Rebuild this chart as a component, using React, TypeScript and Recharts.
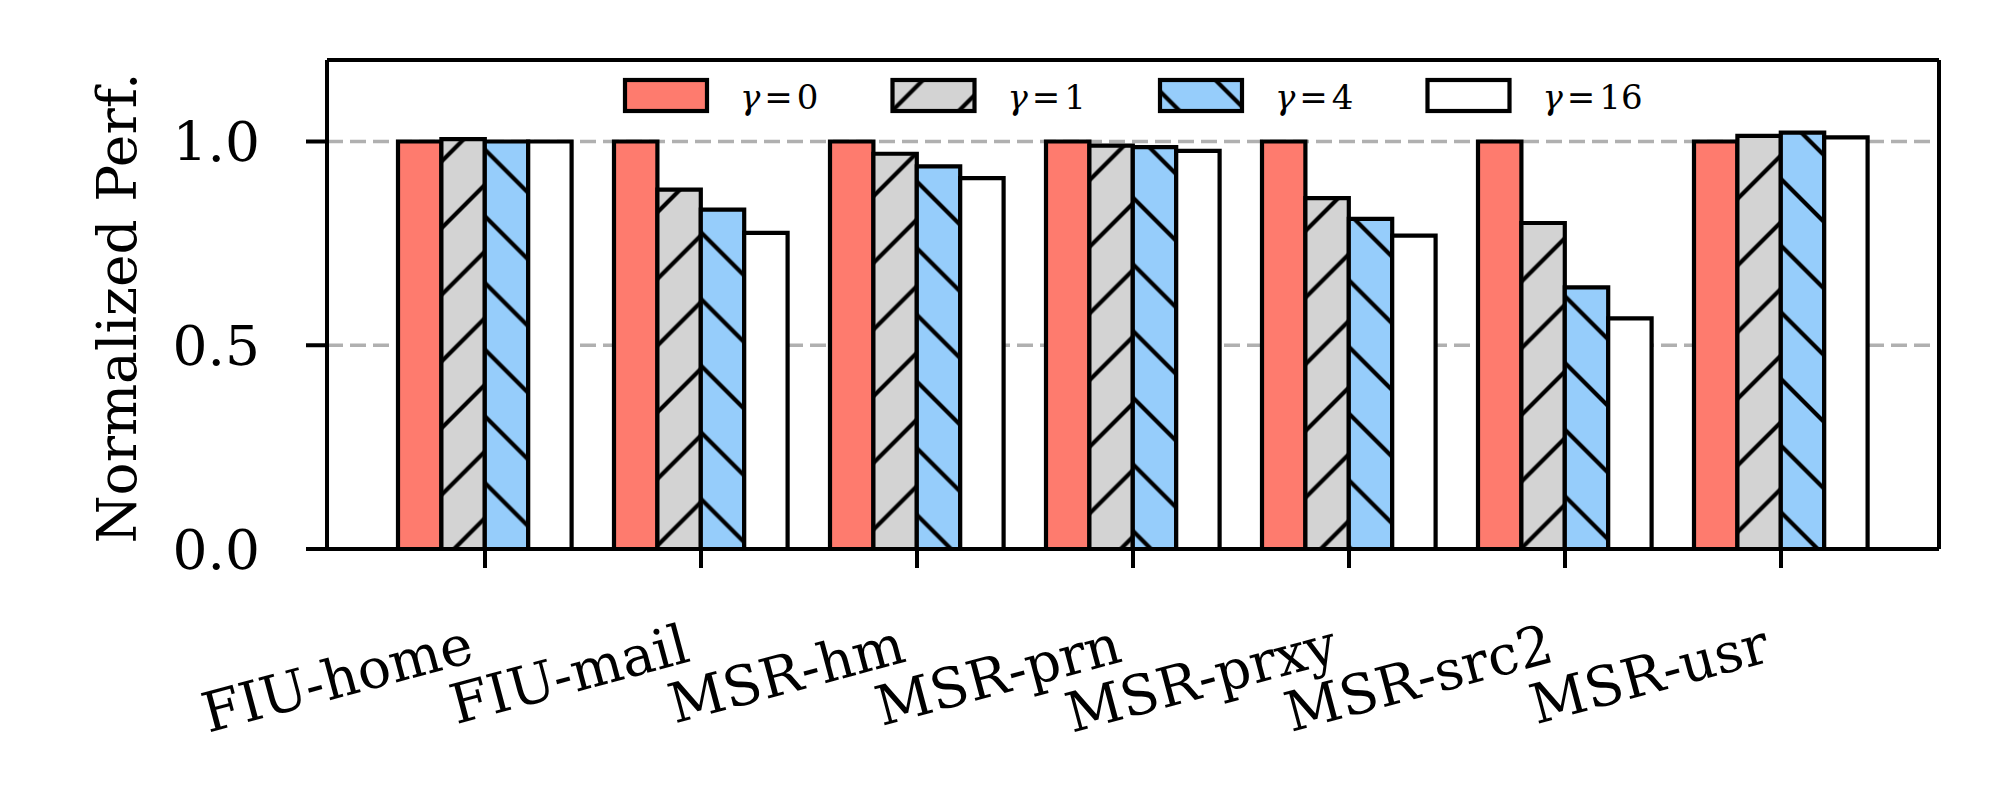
import { BarChart, Bar, XAxis, YAxis, CartesianGrid, Legend } from "recharts";

const categories = ["FIU-home", "FIU-mail", "MSR-hm", "MSR-prn", "MSR-prxy", "MSR-src2", "MSR-usr"];
const gamma0 = [1.0, 1.0, 1.0, 1.0, 1.0, 1.0, 1.0];
const gamma1 = [1.006, 0.882, 0.97, 0.99, 0.861, 0.8, 1.014];
const gamma4 = [1.0, 0.833, 0.939, 0.986, 0.81, 0.642, 1.022];
const gamma16 = [1.0, 0.776, 0.91, 0.977, 0.769, 0.566, 1.01];
const gammaLabels = ["0", "1", "4", "16"];
const yTicks = [0, 0.5, 1.0];

const data = categories.map((name, i) => ({
  name,
  g0: gamma0[i],
  g1: gamma1[i],
  g4: gamma4[i],
  g16: gamma16[i],
}));

const FONT = "DejaVu Serif";
const HATCH = 66.67;
const AXIS = { stroke: "#000", strokeWidth: 4 };

const series = [
  { key: "g0", fill: "#fe7b6e" },
  { key: "g1", fill: "url(#hatch-fwd)" },
  { key: "g4", fill: "url(#hatch-back)" },
  { key: "g16", fill: "#ffffff" },
];

// "/" lines: x + y = c + k*HATCH
function fwdPath(c: number) {
  let d = "";
  for (let k = -1; k <= 2; k++) {
    const s = c + k * HATCH;
    d += `M${-10},${s + 10} L${s + 10},${-10} `;
  }
  return d;
}

// "\" lines: x - y = c + k*HATCH
function backPath(c: number) {
  let d = "";
  for (let k = -2; k <= 1; k++) {
    const s = c + k * HATCH;
    d += `M${s - 10},${-10} L${s + HATCH + 10},${HATCH + 10} `;
  }
  return d;
}

const CategoryTick = (props: any) => {
  const { x, y, payload } = props;
  return (
    <text
      x={0}
      y={0}
      transform={`translate(${x - 9},${y + 93}) rotate(-15)`}
      textAnchor="end"
      fontFamily={FONT}
      fontSize={55}
      fill="#000"
    >
      {payload.value}
    </text>
  );
};

const YTitle = () => (
  <text
    x={0}
    y={0}
    transform="translate(136,308) rotate(-90)"
    textAnchor="middle"
    fontFamily={FONT}
    fontSize={55}
    fill="#000"
  >
    Normalized Perf.
  </text>
);

const LegendBox = () => (
  <svg width={2000} height={140} style={{ display: "block" }}>
    {series.map((s, i) => {
      const x = 625 + i * 267.5;
      return (
        <g key={s.key}>
          <rect x={x} y={80} width={82} height={31} fill={s.fill} stroke="#000" strokeWidth={4.2} />
          <text x={x + 115} y={109} fontFamily={FONT} fontSize={34} fill="#000">
            <tspan fontStyle="italic">γ</tspan>
            <tspan dx={4}>=</tspan>
            <tspan dx={4}>{gammaLabels[i]}</tspan>
          </text>
        </g>
      );
    })}
  </svg>
);

export default function App() {
  return (
    <div style={{ position: "absolute", left: 0, top: 0, width: 2000, height: 800, background: "#fff" }}>
      <BarChart
        width={2000}
        height={800}
        data={data}
        margin={{ top: 59, right: 60, bottom: 51, left: 0 }}
        barSize={43.4}
        barGap={0}
      >
        <defs>
          <pattern id="hatch-fwd" patternUnits="userSpaceOnUse" width={HATCH} height={HATCH}>
            <rect x={0} y={0} width={HATCH} height={HATCH} fill="#d3d3d3" />
            <path d={fwdPath(3)} stroke="#000" strokeWidth={4.2} fill="none" />
          </pattern>
          <pattern id="hatch-back" patternUnits="userSpaceOnUse" width={HATCH} height={HATCH}>
            <rect x={0} y={0} width={HATCH} height={HATCH} fill="#96cdfb" />
            <path d={backPath(2)} stroke="#000" strokeWidth={4.2} fill="none" />
          </pattern>
        </defs>
        <CartesianGrid vertical={false} stroke="#b0b0b0" strokeWidth={3.5} strokeDasharray="16 7" />
        <XAxis
          dataKey="name"
          height={200}
          padding={{ left: 50, right: 50 }}
          axisLine={AXIS}
          tickLine={AXIS}
          tickSize={19}
          tickMargin={0}
          tick={<CategoryTick />}
          interval={0}
        />
        <XAxis
          xAxisId="top"
          dataKey="name"
          orientation="top"
          height={1}
          tick={false}
          tickLine={false}
          axisLine={AXIS}
        />
        <YAxis
          width={327}
          domain={[0, 1.2]}
          ticks={yTicks}
          tickFormatter={(v: number) => v.toFixed(1)}
          axisLine={AXIS}
          tickLine={AXIS}
          tickSize={21}
          tickMargin={46}
          tick={{ fontFamily: FONT, fontSize: 55, fill: "#000" }}
          label={<YTitle />}
        />
        <YAxis
          yAxisId="right"
          orientation="right"
          width={1}
          domain={[0, 1.2]}
          tick={false}
          tickLine={false}
          axisLine={AXIS}
        />
        <Legend
          layout="horizontal"
          verticalAlign="middle"
          align="center"
          wrapperStyle={{ top: 0, left: 0, width: 2000, height: 140 }}
          content={() => <LegendBox />}
        />
        {series.map((s) => (
          <Bar
            key={s.key}
            dataKey={s.key}
            fill={s.fill}
            stroke="#000"
            strokeWidth={4.2}
            isAnimationActive={false}
          />
        ))}
      </BarChart>
    </div>
  );
}
